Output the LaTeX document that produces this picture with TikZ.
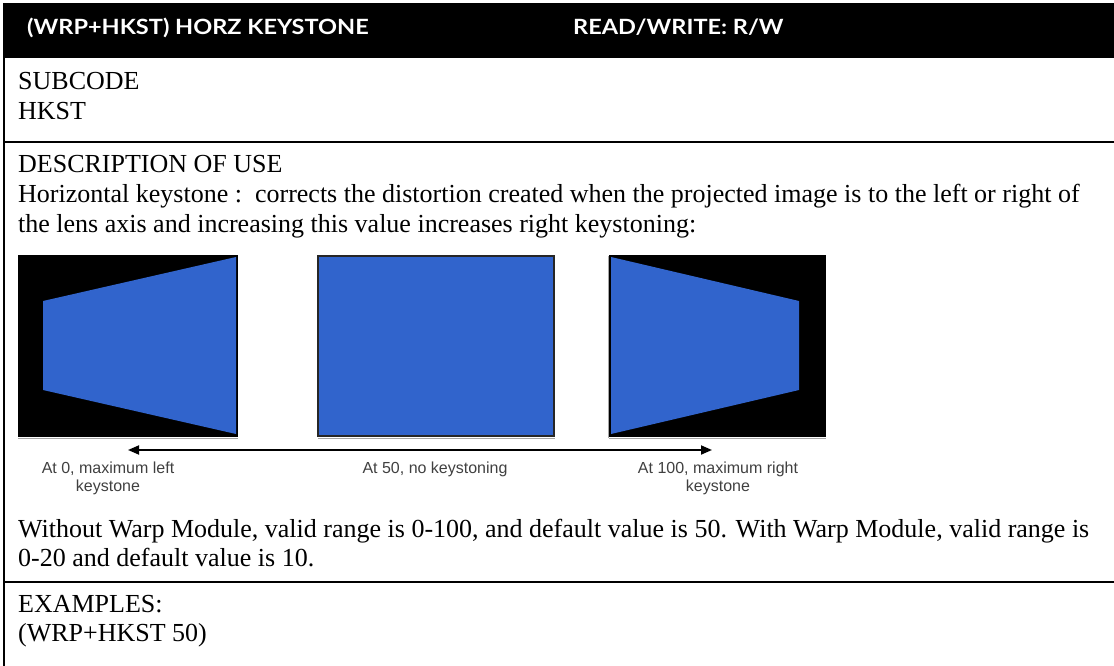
\documentclass[tikz,border=0pt]{standalone}
\usepackage{fontspec}
\setmainfont{Liberation Serif}
\newfontfamily\headfont{Lato}
\newfontfamily\labelfont{Liberation Sans}
\usetikzlibrary{arrows.meta}
\definecolor{screenblue}{RGB}{49,100,204}
\definecolor{labelgray}{RGB}{64,64,64}
\begin{document}
\begin{tikzpicture}[x=1pt,y=-1pt,
  bodytext/.style={anchor=base west, inner sep=0pt, font=\fontsize{26}{30}\selectfont},
  headtext/.style={anchor=base west, inner sep=0pt, text=white, font=\headfont\bfseries\fontsize{21}{24}\selectfont},
  captext/.style={anchor=north, inner sep=0pt, align=center, text=labelgray, font=\labelfont\fontsize{16}{18}\selectfont},
  tablerule/.style={line width=2.4pt},
  panel/.style={fill=screenblue},
  shadowedge/.style={draw=black!35, line width=1pt}]
\useasboundingbox (0,0) rectangle (1114,666);

% header band
\fill[black] (3,3) rectangle (1114,58);
\node[headtext] (title) at (27,35) {\scalebox{1.12}[1]{(WRP+HKST) HORZ KEYSTONE}};
\node[headtext] (access) at (573,35) {\scalebox{1.12}[1]{READ/WRITE: R/W}};

% table borders
\draw[line width=2pt] (4,58) -- (4,666);
\draw[tablerule] (4,142) -- (1114,142);
\draw[tablerule] (4,582) -- (1114,582);

% subcode row
\node[bodytext] (subhead) at (18,90) {SUBCODE};
\node[bodytext] (subcode) at (18,120) {HKST};

% description row
\node[bodytext] (deschead) at (18,172) {DESCRIPTION OF USE};
\node[bodytext] (desc1) at (18,202) {Horizontal keystone :\ \ corrects the distortion created when the projected image is to the left or right of};
\node[bodytext] (desc2) at (18,232) {the lens axis and increasing this value increases right keystoning:};

% faint edges under the three screens
\draw[shadowedge] (18,438) -- (238,438);
\draw[shadowedge] (318,438) -- (555,438);
\draw[shadowedge] (609,438) -- (826,438);
\draw[shadowedge] (608,256) -- (608,438);

% left keystone screen
\fill[black] (18,255) rectangle (238,437);
\fill[panel] (43,301) -- (236,257) -- (236,434) -- (43,390) -- cycle;
% no keystone
\filldraw[panel, draw=black!85, line width=1.5pt] (318,256) rectangle (554,436);
% right keystone screen
\fill[black] (609,255) rectangle (826,437);
\fill[panel] (611,257) -- (799,301) -- (799,390) -- (611,434) -- cycle;

% range arrow
\coordinate (arrowL) at (128,450);
\coordinate (arrowR) at (712,450);
\draw[line width=1.8pt, {Triangle[length=11pt,width=9pt]}-{Triangle[length=11pt,width=9pt]}] (arrowL) -- (arrowR);

\node[captext] (capL) at (108,462) {At 0, maximum left\\keystone};
\node[captext] (capM) at (435,462) {At 50, no keystoning};
\node[captext] (capR) at (718,462) {At 100, maximum right\\keystone};

\node[bodytext] (range1) at (18,537) {Without Warp Module, valid range is 0-100, and default value is 50. With Warp Module, valid range is};
\node[bodytext] (range2) at (18,566) {0-20 and default value is 10.};

% examples row
\node[bodytext] (exhead) at (18,612) {EXAMPLES:};
\node[bodytext] (example) at (18,641) {(WRP+HKST 50)};
\end{tikzpicture}
\end{document}
